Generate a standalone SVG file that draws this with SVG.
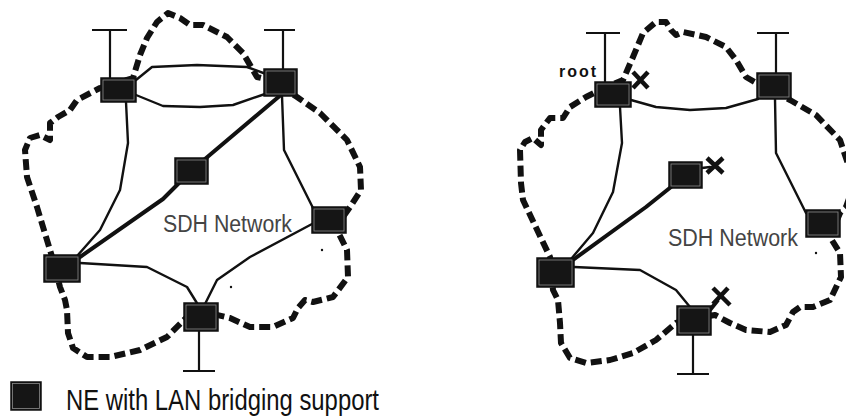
<svg xmlns="http://www.w3.org/2000/svg" width="846" height="416" viewBox="0 0 846 416">
<style>
.cloud{fill:none;stroke:#111;stroke-width:6;stroke-dasharray:11 5;stroke-linejoin:round}
.link{fill:none;stroke:#111;stroke-width:2.4;stroke-linejoin:round;stroke-linecap:round}
.thick{fill:none;stroke:#111;stroke-width:4;stroke-linejoin:round;stroke-linecap:round}
.tee{fill:none;stroke:#111;stroke-width:2.2}
.ne{fill:#151515;stroke:#111;stroke-width:1.5}
.inner{fill:none;stroke:#8a8a8a;stroke-width:0.8}
.x{fill:none;stroke:#111;stroke-width:4.5;stroke-linecap:butt}
.lbl{font-family:"Liberation Sans",Arial,sans-serif;fill:#444}
</style>
<rect width="846" height="416" fill="#fff"/>
<g id="connectors">
  <polyline class="cloud" points="110,85 133,78 140,55 147,38 157,22 168,13 180,18 190,25 203,25 227,37 243,53 257,77 270,80 297,97 320,113 347,140 360,167 361,190 350,207 343,217 337,230 347,250 348,277 333,297 313,302 305,300 298,308 293,318 273,327 250,327 230,318 205,312 187,317 167,337 140,350 110,357 87,357 73,348 68,333 67,310 65,300 60,287 53,260 37,207 27,177 25,150 30,138 40,135 50,140 50,123 58,117 70,110 77,100 100,88 110,85"/>
  <polyline class="cloud" points="600,90 623,80 633,57 643,33 656,22 666,22 671,30 676,35 683,32 706,37 726,47 736,60 746,77 760,85 790,100 816,115 840,140 850,170 852,190 846,207 840,213 830,237 840,253 841,277 830,300 813,307 800,307 793,312 786,325 770,332 746,330 730,323 715,315 695,318 676,323 656,340 633,353 610,360 586,363 570,358 561,343 560,323 558,300 553,290 550,257 523,200 521,183 520,150 525,142 533,138 541,145 541,130 550,118 563,118 570,107 586,97 600,90"/>
  <polyline class="link" points="136,80 152,67 197,65 247,67 266,74"/>
  <polyline class="link" points="136,95 163,106 200,107 233,105 265,94"/>
  <polyline class="link" points="126,102 128,143 120,190 100,230 70,264"/>
  <polyline class="thick" points="282,94 192,170 163,199 70,264"/>
  <polyline class="link" points="80,263 147,267 187,287 200,308"/>
  <polyline class="link" points="312,224 250,257 217,280 200,314"/>
  <polyline class="link" points="282,96 284,150 313,208"/>
  <polyline class="link" points="631,100 656,107 690,110 726,108 758,99"/>
  <polyline class="link" points="620,107 622,143 613,192 593,233 566,265"/>
  <polyline class="thick" points="671,187 646,207 566,265"/>
  <polyline class="link" points="775,99 776,153 806,213"/>
  <polyline class="link" points="574,267 640,270 676,290 690,307"/>
  <line class="link" x1="702" y1="168" x2="710" y2="167"/>
  <line x1="710" y1="310" x2="718" y2="300" stroke="#111" stroke-width="4"/>
  <path class="tee" d="M92,30H127M110,30V78"/>
  <path class="tee" d="M264,30H295M283,30V69"/>
  <path class="tee" d="M183,371H215M199,331V371"/>
  <path class="tee" d="M586,33H620M605,33V82"/>
  <path class="tee" d="M757,33H789M776,33V73"/>
  <path class="tee" d="M677,374H709M693,335V374"/>
</g>
<g id="ne-left-topleft"><rect class="ne" x="101" y="78" width="35" height="24"/><rect class="inner" x="103" y="80" width="31" height="20"/></g>
<g id="ne-left-topright"><rect class="ne" x="264" y="69" width="33" height="27"/><rect class="inner" x="266" y="71" width="29" height="23"/></g>
<g id="ne-left-middle"><rect class="ne" x="175" y="158" width="33" height="26"/><rect class="inner" x="177" y="160" width="29" height="22"/></g>
<g id="ne-left-right"><rect class="ne" x="312" y="207" width="34" height="26"/><rect class="inner" x="314" y="209" width="30" height="22"/></g>
<g id="ne-left-bottomleft"><rect class="ne" x="44" y="255" width="36" height="27"/><rect class="inner" x="46" y="257" width="32" height="23"/></g>
<g id="ne-left-bottom"><rect class="ne" x="184" y="303" width="34" height="28"/><rect class="inner" x="186" y="305" width="30" height="24"/></g>
<g id="ne-right-root"><rect class="ne" x="595" y="82" width="36" height="25"/><rect class="inner" x="597" y="84" width="32" height="21"/></g>
<g id="ne-right-topright"><rect class="ne" x="757" y="73" width="34" height="26"/><rect class="inner" x="759" y="75" width="30" height="22"/></g>
<g id="ne-right-middle"><rect class="ne" x="669" y="162" width="33" height="26"/><rect class="inner" x="671" y="164" width="29" height="22"/></g>
<g id="ne-right-right"><rect class="ne" x="806" y="210" width="34" height="27"/><rect class="inner" x="808" y="212" width="30" height="23"/></g>
<g id="ne-right-bottomleft"><rect class="ne" x="537" y="258" width="37" height="29"/><rect class="inner" x="539" y="260" width="33" height="25"/></g>
<g id="ne-right-bottom"><rect class="ne" x="677" y="306" width="34" height="29"/><rect class="inner" x="679" y="308" width="30" height="25"/></g>
<g id="blocked-marks">
  <path class="x" d="M633,72L648,88M648,72L633,88"/>
  <path class="x" d="M707,158L723,173M723,158L707,173"/>
  <path class="x" d="M713,288L730,305M728,288L713,304"/>
</g>
<g id="dots" fill="#111">
  <circle cx="322" cy="250" r="1.2"/><circle cx="231" cy="287" r="1.2"/><circle cx="816" cy="253" r="1.2"/>
</g>
<g id="labels">
  <text class="lbl" x="163" y="232" font-size="23" textLength="129" lengthAdjust="spacingAndGlyphs">SDH Network</text>
  <text class="lbl" x="668" y="246" font-size="23" textLength="130" lengthAdjust="spacingAndGlyphs">SDH Network</text>
  <text x="559" y="77" font-family="Liberation Sans,Arial,sans-serif" font-weight="bold" font-size="16" fill="#111" textLength="37" lengthAdjust="spacing">root</text>
</g>
<g id="legend">
  <rect class="ne" x="11" y="382" width="30" height="28"/><rect class="inner" x="12.5" y="383.5" width="27" height="25"/>
  <text x="66" y="410" font-family="Liberation Sans,Arial,sans-serif" font-size="30" fill="#111" textLength="313" lengthAdjust="spacingAndGlyphs">NE with LAN bridging support</text>
</g>
</svg>
